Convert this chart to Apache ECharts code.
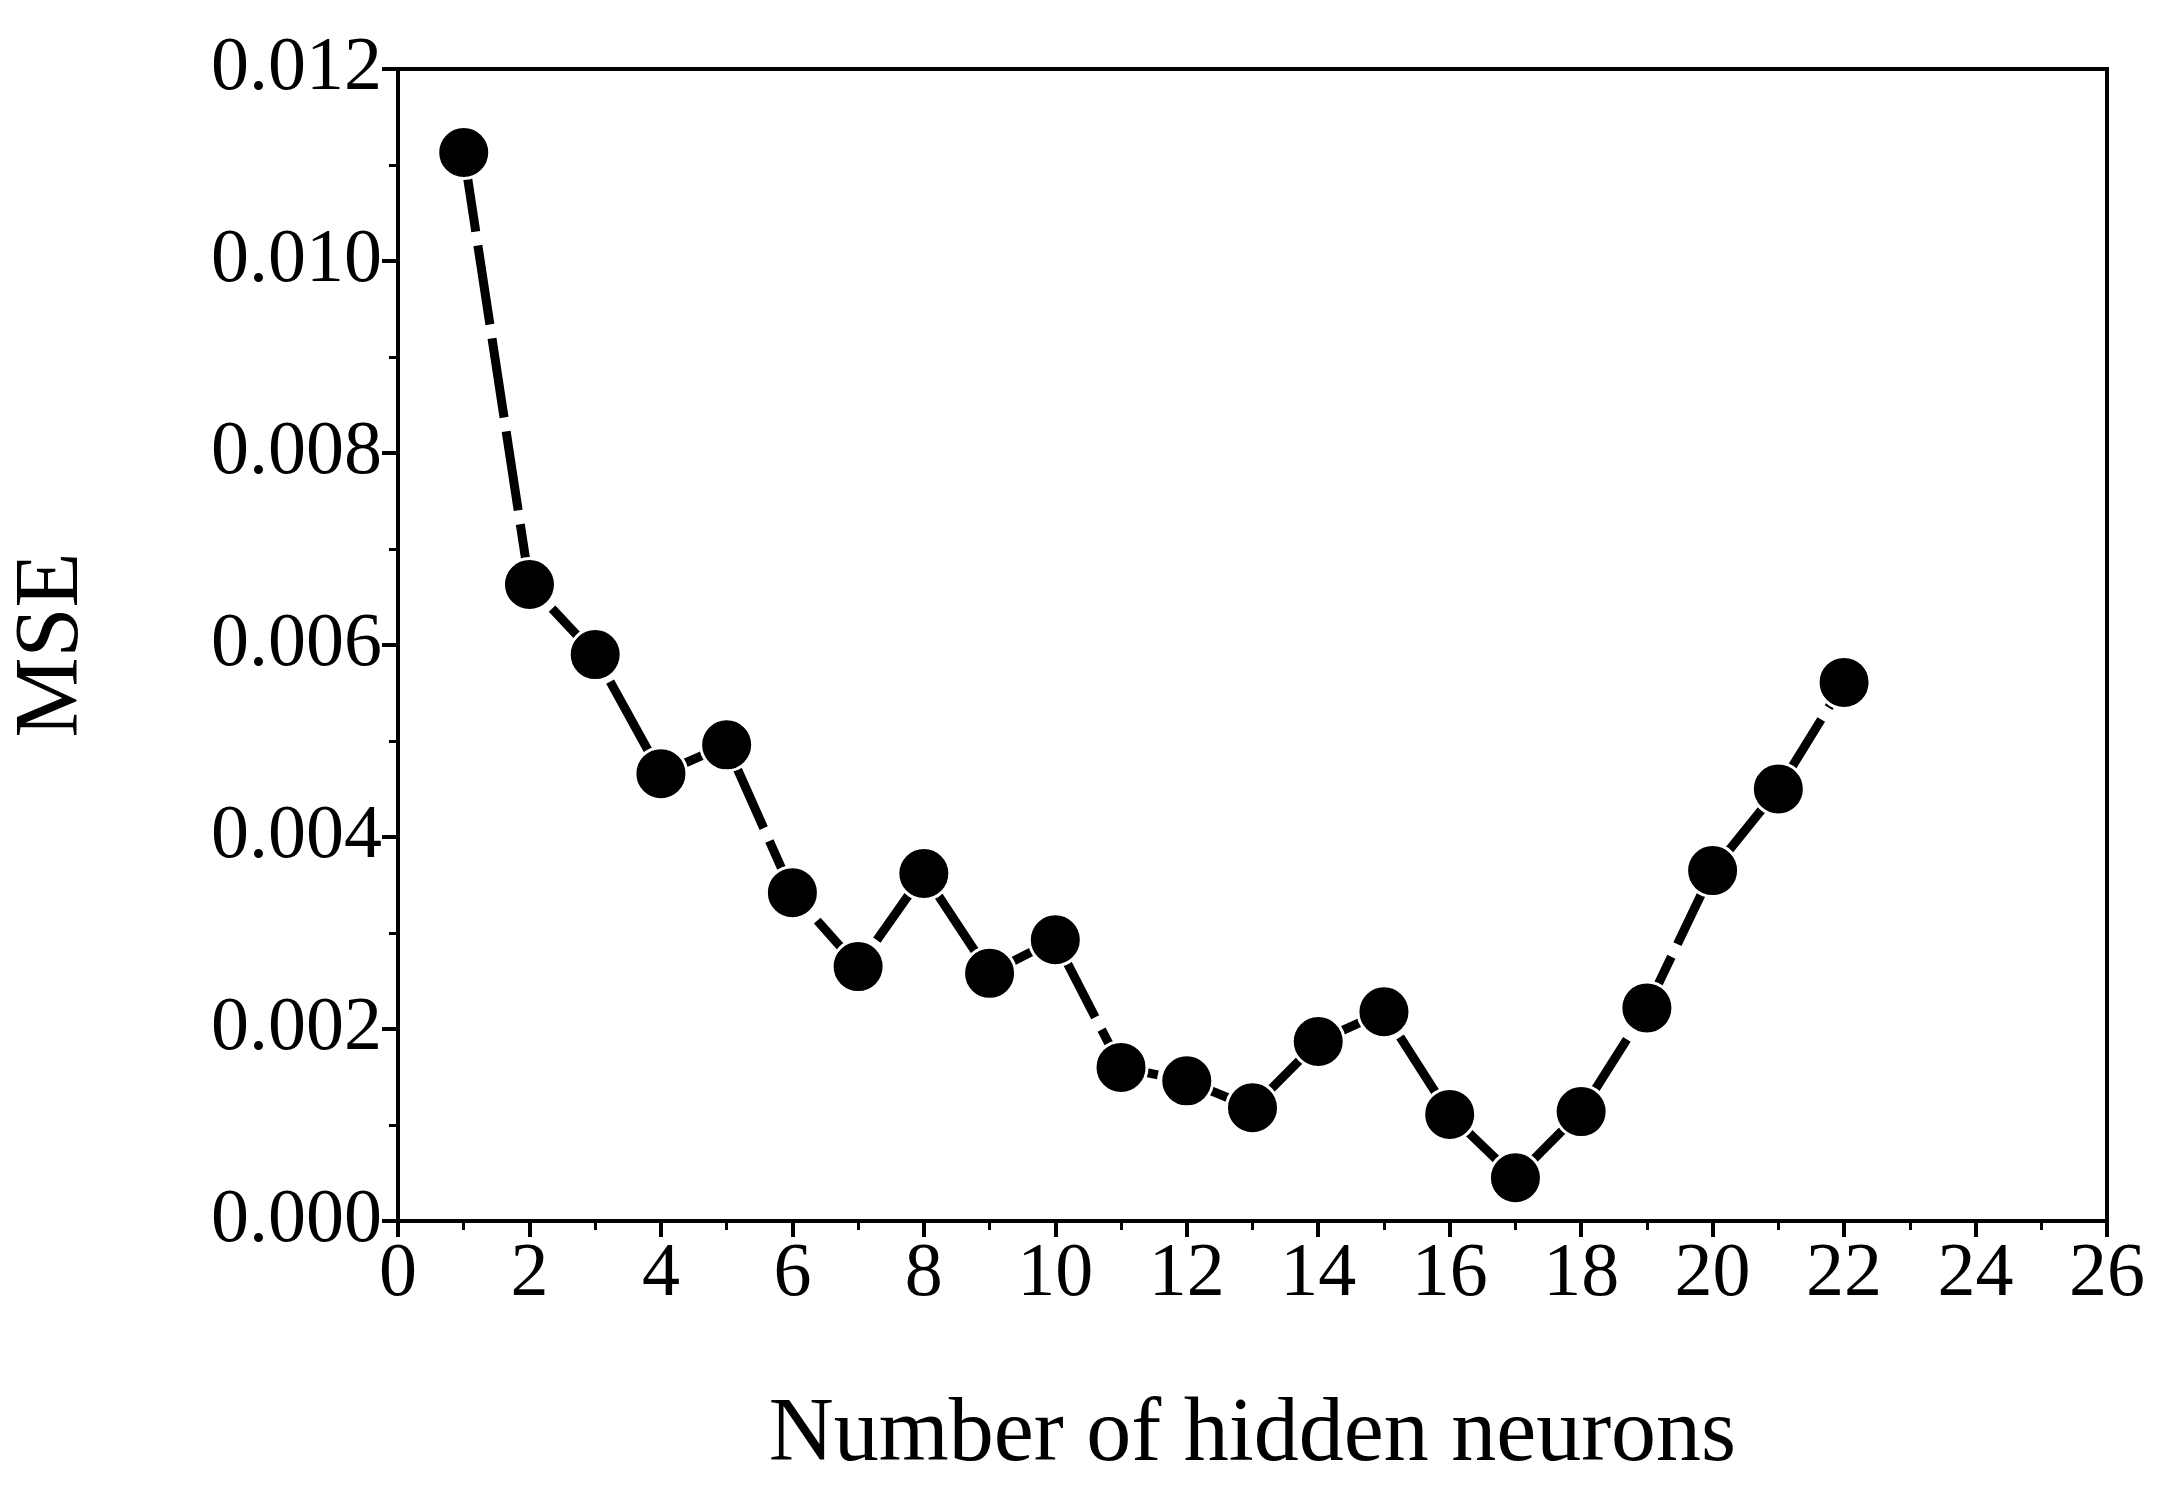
<!DOCTYPE html>
<html>
<head>
<meta charset="utf-8">
<script src="https://cdn.jsdelivr.net/npm/echarts@6/dist/echarts.min.js"></script>
<style>
  html, body { margin: 0; padding: 0; background: #fff; }
  #chart { width: 2171px; height: 1495px; }
</style>
</head>
<body>
<div id="chart"></div>
<script>
// hidden neurons vs MSE
const neurons = [1, 2, 3, 4, 5, 6, 7, 8, 9, 10, 11, 12, 13, 14, 15, 16, 17, 18, 19, 20, 21, 22];
const mse = [0.01113, 0.00663, 0.0059, 0.00466, 0.00496, 0.00342, 0.00265, 0.00362, 0.00258, 0.00293,
  0.0016, 0.00146, 0.00118, 0.00187, 0.00218, 0.00111, 0.00045, 0.00114, 0.00222, 0.00365, 0.0045, 0.00561];

const chart = echarts.init(document.getElementById('chart'));
const font = 'Liberation Serif';
const axisLine = { show: true, lineStyle: { color: '#000', width: 4 } };

chart.setOption({
  animation: false,
  grid: { left: 378, right: 64, top: 69, bottom: 274, show: true, borderColor: '#000', borderWidth: 4, backgroundColor: 'transparent' },
  xAxis: {
    type: 'value', min: 0, max: 26, interval: 2,
    name: 'Number of hidden neurons', nameLocation: 'middle', nameGap: 170,
    nameTextStyle: { fontFamily: font, fontSize: 90, color: '#000' },
    axisLine: axisLine,
    axisTick: { show: true, length: 16, lineStyle: { width: 4, color: '#000' } },
    minorTick: { show: true, splitNumber: 2, length: 9, lineStyle: { width: 3, color: '#000' } },
    axisLabel: { fontFamily: font, fontSize: 76, color: '#000', margin: 16 },
    splitLine: { show: false }
  },
  yAxis: {
    type: 'value', min: 0, max: 0.012, interval: 0.002,
    name: 'MSE', nameLocation: 'middle', nameGap: 300,
    nameTextStyle: { fontFamily: font, fontSize: 90, color: '#000' },
    axisLine: axisLine,
    axisTick: { show: true, length: 16, lineStyle: { width: 4, color: '#000' } },
    minorTick: { show: true, splitNumber: 2, length: 9, lineStyle: { width: 3, color: '#000' } },
    axisLabel: { fontFamily: font, fontSize: 76, color: '#000', margin: 16,
      formatter: v => v.toFixed(3) },
    splitLine: { show: false }
  },
  series: [{
    type: 'line',
    data: neurons.map((n, i) => [n, mse[i]]),
    symbol: 'circle', symbolSize: 52,
    itemStyle: { color: '#000', borderColor: '#fff', borderWidth: 3 },
    lineStyle: { color: '#000', width: 9, type: [80, 14] }
  }]
});
</script>
</body>
</html>
